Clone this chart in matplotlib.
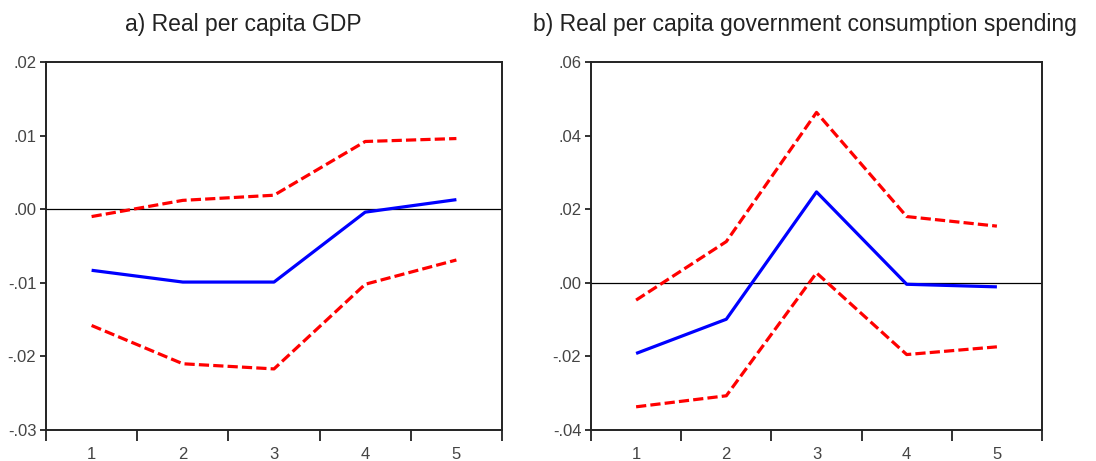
import matplotlib
matplotlib.use("Agg")
import matplotlib.pyplot as plt
from matplotlib.ticker import FixedLocator, NullFormatter

plt.rcParams['font.family'] = ['Liberation Sans', 'DejaVu Sans']

periods = [1, 2, 3, 4, 5]

gdp_response = [-0.0083, -0.0099, -0.0099, -0.0004, 0.0013]
gdp_upper = [-0.0010, 0.0012, 0.0019, 0.0092, 0.0096]
gdp_lower = [-0.0158, -0.0210, -0.0217, -0.0102, -0.0069]

gov_response = [-0.0192, -0.0099, 0.0247, -0.0004, -0.0011]
gov_upper = [-0.0047, 0.0112, 0.0463, 0.0180, 0.0154]
gov_lower = [-0.0337, -0.0307, 0.0027, -0.0195, -0.0174]

gdp_yticks = [-0.03, -0.02, -0.01, 0.00, 0.01, 0.02]
gov_yticks = [-0.04, -0.02, 0.00, 0.02, 0.04, 0.06]

titles = ["a) Real per capita GDP",
          "b) Real per capita government consumption spending"]


def fmt(v):
    s = f"{v:.2f}"
    return s.replace("0.", ".", 1)


fig = plt.figure(figsize=(10.96, 4.61), dpi=100)
W, H = 1096, 461
boxes = [(46, 62, 502, 430), (591, 62, 1042, 430)]
panels = [
    (gdp_response, gdp_upper, gdp_lower, gdp_yticks, titles[0], 243),
    (gov_response, gov_upper, gov_lower, gov_yticks, titles[1], 805),
]

for (x0, y0, x1, y1), (resp, up, lo, yt, title, tx) in zip(boxes, panels):
    ax = fig.add_axes([x0 / W, 1 - y1 / H, (x1 - x0) / W, (y1 - y0) / H])
    ax.plot(periods, up, color='#ff0000', lw=2.3, dashes=(3.2, 1.3))
    ax.plot(periods, lo, color='#ff0000', lw=2.3, dashes=(3.2, 1.3))
    ax.plot(periods, resp, color='#0000ff', lw=2.3, solid_capstyle='butt')
    ax.axhline(0, color='black', lw=0.9, zorder=1)
    ax.set_xlim(0.5, 5.5)
    ax.set_ylim(yt[0], yt[-1])
    ax.set_yticks(yt)
    ax.set_yticklabels([fmt(v) for v in yt], fontsize=12, color='#444444')
    ax.xaxis.set_major_locator(FixedLocator([0.5, 1.5, 2.5, 3.5, 4.5, 5.5]))
    ax.xaxis.set_major_formatter(NullFormatter())
    ax.xaxis.set_minor_locator(FixedLocator(periods))
    ax.set_xticklabels([str(p) for p in periods], minor=True, fontsize=12,
                       color='#444444')
    ax.tick_params(axis='x', which='major', direction='out', length=8,
                   width=1.3, color='#222222')
    ax.tick_params(axis='x', which='minor', length=0, pad=12)
    ax.tick_params(axis='y', direction='out', length=4, width=1.3,
                   color='#222222', pad=3)
    for sp in ax.spines.values():
        sp.set_linewidth(1.4)
        sp.set_color('#222222')
    fig.text(tx / W, 1 - 31 / H, title, ha='center', va='baseline',
             fontsize=16.5, color='#222222')

fig.savefig("out.png", dpi=100)
